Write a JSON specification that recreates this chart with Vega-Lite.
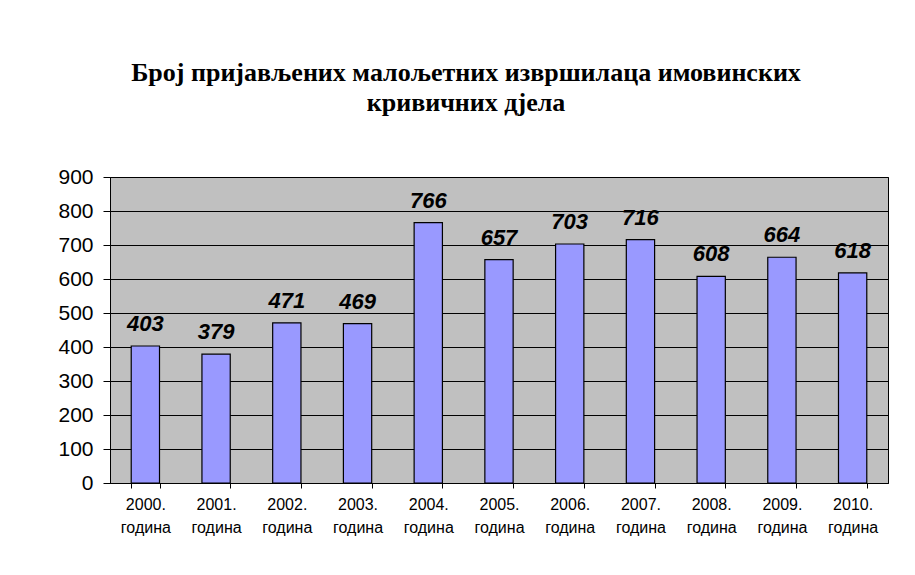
{
  "$schema": "https://vega.github.io/schema/vega-lite/v6.json",
  "autosize": "none",
  "width": 778,
  "height": 306,
  "padding": {"left": 110, "top": 177, "right": 27, "bottom": 92},
  "background": "white",
  "title": {
    "text": ["Број пријављених малољетних извршилаца имовинских", "кривичних дјела"],
    "font": "'Liberation Serif', 'Times New Roman', serif",
    "fontSize": 26,
    "fontWeight": 700,
    "color": "black",
    "lineHeight": 30,
    "anchor": "middle",
    "frame": "group",
    "dx": -33,
    "offset": 50
  },
  "data": {
    "values": [
      {"year": "2000.", "value": 403},
      {"year": "2001.", "value": 379},
      {"year": "2002.", "value": 471},
      {"year": "2003.", "value": 469},
      {"year": "2004.", "value": 766},
      {"year": "2005.", "value": 657},
      {"year": "2006.", "value": 703},
      {"year": "2007.", "value": 716},
      {"year": "2008.", "value": 608},
      {"year": "2009.", "value": 664},
      {"year": "2010.", "value": 618}
    ]
  },
  "encoding": {
    "x": {
      "field": "year",
      "type": "ordinal",
      "sort": null,
      "scale": {"paddingInner": 0.6, "paddingOuter": 0.3},
      "axis": {
        "title": null,
        "labelAngle": 0,
        "labelExpr": "datum.value ? [datum.value, 'година'] : ''",
        "labelFont": "Liberation Sans",
        "labelFontSize": 16,
        "labelLineHeight": 23,
        "labelColor": "black",
        "labelPadding": 8,
        "tickBand": "extent",
        "tickColor": "black",
        "tickSize": 5,
        "domainColor": "black",
        "grid": false
      }
    },
    "y": {
      "field": "value",
      "type": "quantitative",
      "scale": {"domain": [0, 900], "nice": false},
      "axis": {
        "title": null,
        "values": [0, 100, 200, 300, 400, 500, 600, 700, 800, 900],
        "labelFont": "Liberation Sans",
        "labelFontSize": 21,
        "labelColor": "black",
        "labelPadding": 10,
        "tickColor": "black",
        "tickSize": 7,
        "domainColor": "black",
        "grid": true,
        "gridColor": "black",
        "gridOpacity": 1,
        "gridWidth": 1
      }
    }
  },
  "layer": [
    {
      "mark": {"type": "bar", "color": "#9999FF", "stroke": "black", "strokeWidth": 1.2}
    },
    {
      "mark": {
        "type": "text",
        "baseline": "alphabetic",
        "dy": -15,
        "font": "Liberation Sans",
        "fontSize": 22,
        "fontWeight": "bold",
        "fontStyle": "italic",
        "color": "black"
      },
      "encoding": {"text": {"field": "value", "type": "quantitative"}}
    }
  ],
  "config": {
    "view": {"fill": "#C0C0C0", "stroke": "black", "strokeWidth": 1}
  }
}
